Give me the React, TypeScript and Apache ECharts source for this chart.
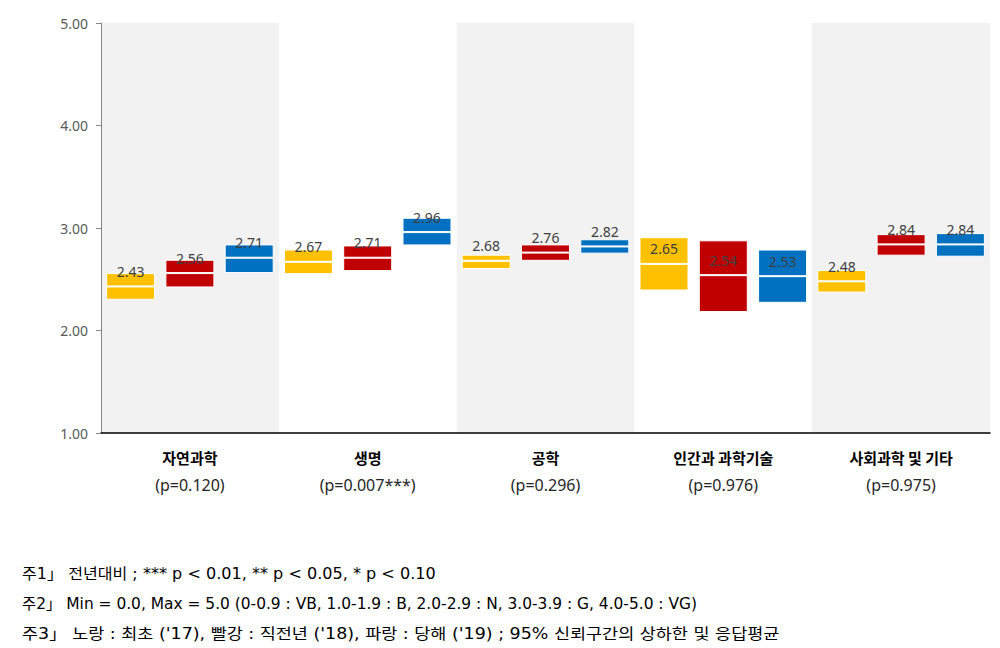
import React, { useEffect, useRef } from "react";
import * as echarts from "echarts";

const categories = ["자연과학", "생명", "공학", "인간과 과학기술", "사회과학 및 기타"];
const pValues = ["(p=0.120)", "(p=0.007***)", "(p=0.296)", "(p=0.976)", "(p=0.975)"];

// '17 (yellow)
const mean17 = [2.43, 2.67, 2.68, 2.65, 2.48];
const low17 = [2.3, 2.55, 2.6, 2.39, 2.37];
const high17 = [2.56, 2.79, 2.74, 2.91, 2.59];
// '18 (red)
const mean18 = [2.56, 2.71, 2.76, 2.54, 2.84];
const low18 = [2.42, 2.58, 2.68, 2.18, 2.73];
const high18 = [2.69, 2.83, 2.84, 2.88, 2.94];
// '19 (blue)
const mean19 = [2.71, 2.96, 2.82, 2.53, 2.84];
const low19 = [2.56, 2.83, 2.75, 2.27, 2.72];
const high19 = [2.84, 3.1, 2.89, 2.79, 2.95];

const yTicks = [1, 2, 3, 4, 5];

const footnotes = [
  "주1」 전년대비 ; *** p < 0.01, ** p < 0.05, * p < 0.10",
  "주2」 Min = 0.0, Max = 5.0 (0-0.9 : VB, 1.0-1.9 : B, 2.0-2.9 : N, 3.0-3.9 : G, 4.0-5.0 : VG)",
  "주3」 노랑 : 최초 ('17), 빨강 : 직전년 ('18), 파랑 : 당해 ('19) ; 95% 신뢰구간의 상하한 및 응답평균",
];
// layout: right end (px) of each footnote line in the reference
const noteEnds = [436, 698, 780];
const NOTE_X = 22;

const groups = [
  { key: "y", color: "#FFC000", mean: mean17, low: low17, high: high17 },
  { key: "r", color: "#C00000", mean: mean18, low: low18, high: high18 },
  { key: "b", color: "#0070C0", mean: mean19, low: low19, high: high19 },
];

const FONT = '"Noto Sans CJK KR", "Noto Sans", sans-serif';
const NUM_FONT = '"Noto Sans", "Noto Sans CJK KR", sans-serif';
const NOTE_FONT = '15px "DejaVu Sans", "Noto Sans CJK KR", sans-serif';

function measure(text: string, font: string): number {
  const c = document.createElement("canvas").getContext("2d");
  if (!c) return 0;
  c.font = font;
  return c.measureText(text).width;
}

export default function App() {
  const ref = useRef<HTMLDivElement>(null);
  useEffect(() => {
    document.body.style.margin = "0";
    if (!ref.current) return;
    const chart = echarts.init(ref.current, undefined, { renderer: "svg" });
    const series: any[] = [];
    groups.forEach((g) => {
      const common = {
        type: "bar",
        stack: g.key,
        barWidth: 49,
        barGap: "21%",
      };
      series.push({
        ...common,
        name: g.key + "-base",
        data: g.low,
        itemStyle: { color: "rgba(0,0,0,0)" },
        silent: true,
      });
      series.push({
        ...common,
        name: g.key + "-lower",
        data: g.mean.map((m, i) => +(m - g.low[i]).toFixed(4)),
        itemStyle: { color: g.color, borderColor: "#FFFFFF", borderWidth: 1 },
      });
      series.push({
        ...common,
        name: g.key + "-upper",
        data: g.high.map((h, i) => +(h - g.mean[i]).toFixed(4)),
        itemStyle: { color: g.color, borderColor: "#FFFFFF", borderWidth: 1 },
        label: {
          show: true,
          position: "insideBottom",
          distance: 8,
          formatter: (p: any) => g.mean[p.dataIndex].toFixed(2),
          color: "#404040",
          fontSize: 14,
          fontFamily: NUM_FONT,
        },
      });
    });

    const notes = footnotes.map((t, i) => {
      const w = measure(t, NOTE_FONT);
      const sx = w > 0 ? (noteEnds[i] - NOTE_X) / w : 1;
      return {
        type: "text",
        x: NOTE_X,
        y: 574 + i * 30,
        scaleX: sx,
        style: {
          text: t,
          font: NOTE_FONT,
          fill: "#000000",
          verticalAlign: "middle",
        },
      };
    });

    chart.setOption({
      animation: false,
      textStyle: { fontFamily: FONT },
      grid: { left: 101, right: 10, top: 23, bottom: 215, containLabel: false },
      xAxis: {
        type: "category",
        data: categories,
        axisLine: { show: true, lineStyle: { color: "#000000", width: 1.5 } },
        axisTick: { show: false },
        splitArea: { show: true, areaStyle: { color: ["#F2F2F2", "rgba(255,255,255,0)"] } },
        axisLabel: {
          interval: 0,
          margin: 10,
          formatter: (v: string, i: number) => `{n|${v}}\n{p|${pValues[i]}}`,
          rich: {
            n: { fontSize: 15, fontWeight: "bold", color: "#000000", lineHeight: 28, fontFamily: FONT },
            p: { fontSize: 16, color: "#262626", lineHeight: 28, fontFamily: NUM_FONT },
          },
        },
      },
      yAxis: {
        type: "value",
        min: yTicks[0],
        max: yTicks[yTicks.length - 1],
        interval: 1,
        axisLine: { show: true, lineStyle: { color: "#868686", width: 1 } },
        axisTick: { show: true, inside: false, length: 5, lineStyle: { color: "#868686" } },
        splitLine: { show: false },
        axisLabel: {
          formatter: (v: number) => v.toFixed(2),
          color: "#595959",
          fontSize: 14,
          margin: 13,
          fontFamily: NUM_FONT,
        },
      },
      series,
      graphic: notes,
    });
    return () => chart.dispose();
  }, []);
  return <div ref={ref} style={{ width: 1000, height: 648 }} />;
}
